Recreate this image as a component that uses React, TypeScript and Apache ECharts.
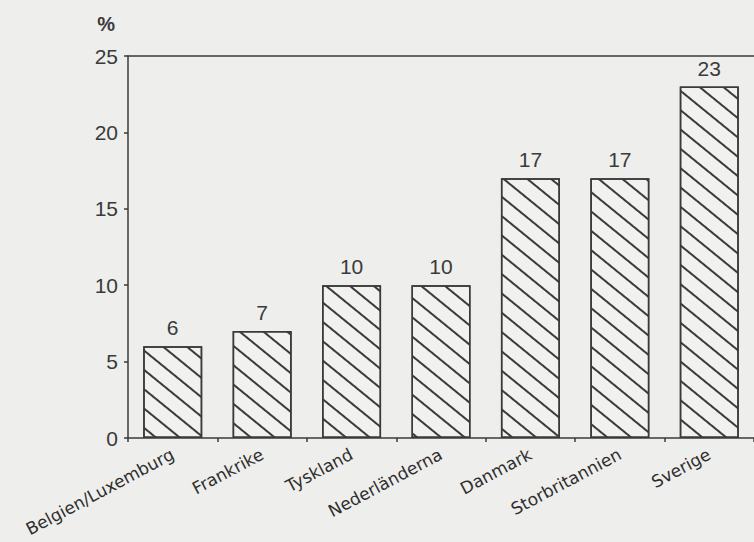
import React, { useEffect, useRef } from "react";
import * as echarts from "echarts";

const categories = [
  "Belgien/Luxemburg",
  "Frankrike",
  "Tyskland",
  "Nederländerna",
  "Danmark",
  "Storbritannien",
  "Sverige",
];
const shares = [6, 7, 10, 10, 17, 17, 23];
const yTicks = { min: 0, max: 25, interval: 5 };
const unitLabel = "%";

const ink = "#3a3a3a";
const paper = "#eeeeec";

export default function App() {
  const ref = useRef<HTMLDivElement>(null);
  useEffect(() => {
    if (!ref.current) return;
    const chart = echarts.init(ref.current, undefined, { renderer: "svg" });
    chart.setOption({
      animation: false,
      backgroundColor: paper,
      grid: { left: 128, top: 56, width: 630, height: 382, containLabel: false },
      xAxis: [
        {
          type: "category",
          data: categories,
          boundaryGap: true,
          axisLine: { show: true, lineStyle: { color: ink, width: 1.5 } },
          axisTick: { show: true, inside: false, length: 4, lineStyle: { color: ink, width: 1.5 } },
          axisLabel: {
            rotate: 28,
            interval: 0,
            margin: 15,
            color: "#2e2e2e",
            fontFamily: "DejaVu Sans",
            fontSize: 17,
          },
        },
        {
          type: "category",
          data: categories,
          position: "top",
          axisLine: { show: true, lineStyle: { color: ink, width: 1.5 } },
          axisTick: { show: false },
          axisLabel: { show: false },
        },
      ],
      yAxis: {
        type: "value",
        min: yTicks.min,
        max: yTicks.max,
        interval: yTicks.interval,
        name: unitLabel,
        nameLocation: "end",
        nameGap: 22,
        nameTextStyle: {
          color: ink,
          fontFamily: "Liberation Sans",
          fontSize: 20,
          fontWeight: "bold",
          align: "right",
          padding: [0, 13, 0, 0],
        },
        axisLine: { show: true, lineStyle: { color: ink, width: 1.5 } },
        axisTick: { show: true, inside: false, length: 4, lineStyle: { color: ink, width: 1.5 } },
        splitLine: { show: false },
        axisLabel: {
          color: ink,
          fontFamily: "Liberation Sans",
          fontSize: 21,
          margin: 10,
        },
      },
      series: [
        {
          type: "bar",
          data: shares,
          barWidth: 59,
          itemStyle: {
            color: "#f1f1ef",
            borderColor: ink,
            borderWidth: 1.5,
            decal: {
              symbol: "rect",
              symbolSize: 1,
              color: ink,
              dashArrayX: [1, 0],
              dashArrayY: [1.4, 12.6],
              rotation: Math.PI / 4.6,
            },
          },
          label: {
            show: true,
            position: "top",
            distance: 8,
            color: ink,
            fontFamily: "Liberation Sans",
            fontSize: 21,
          },
        },
      ],
    });
    return () => chart.dispose();
  }, []);
  return (
    <div
      ref={ref}
      style={{ position: "fixed", left: 0, top: 0, width: 754, height: 542 }}
    />
  );
}
